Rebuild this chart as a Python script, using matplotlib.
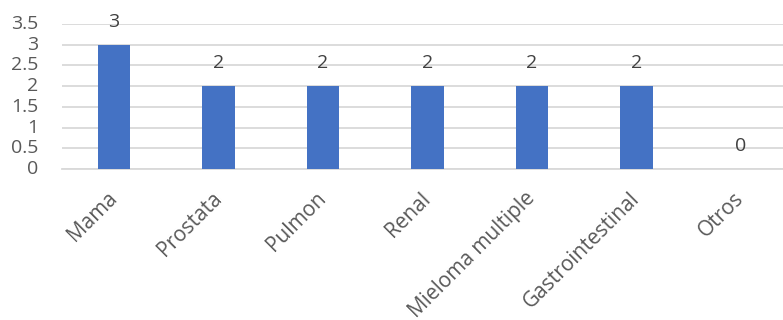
import matplotlib
matplotlib.use("Agg")
import matplotlib.pyplot as plt

categories = ["Mama", "Prostata", "Pulmon", "Renal", "Mieloma multiple",
              "Gastrointestinal", "Otros"]
values = [3, 2, 2, 2, 2, 2, 0]
yticks = [0, 0.5, 1, 1.5, 2, 2.5, 3, 3.5]
ytick_labels = ["0", "0.5", "1", "1.5", "2", "2.5", "3", "3.5"]

plt.rcParams["font.family"] = ["Open Sans", "DejaVu Sans"]
text_color = "#595959"
grid_color = "#D9D9D9"
bar_color = "#4472C4"

fig = plt.figure(figsize=(7.83, 3.2), dpi=100)
ax = fig.add_axes([0.0789, 0.472, 0.934, 0.453])

x = list(range(len(categories)))
ax.bar(x, values, width=0.31, color=bar_color, zorder=3)

for xi, v in zip(x, values):
    ax.annotate(str(v), (xi, v), xytext=(0, 10), textcoords="offset points",
                ha="center", va="bottom", fontsize=14, color="#404040")

ax.set_xlim(-0.5, len(categories) - 0.5)
ax.set_ylim(0, 3.5)
ax.set_yticks(yticks)
ax.set_yticklabels(ytick_labels)
ax.yaxis.grid(True, color=grid_color, linewidth=1.3, zorder=0)
ax.set_axisbelow(True)

for side in ["left", "right", "top"]:
    ax.spines[side].set_visible(False)
ax.spines["bottom"].set_color(grid_color)
ax.spines["bottom"].set_linewidth(1.3)

ax.tick_params(axis="y", length=0, pad=17, labelsize=14, labelcolor=text_color)
ax.tick_params(axis="x", length=0, pad=19, labelsize=15, labelcolor=text_color)
ax.set_xticks(x)
ax.set_xticklabels(categories, rotation=45, ha="right", va="center",
                   rotation_mode="anchor")
for lbl in ax.get_yticklabels():
    lbl.set_verticalalignment("center")

fig.savefig("out.png", dpi=100)
